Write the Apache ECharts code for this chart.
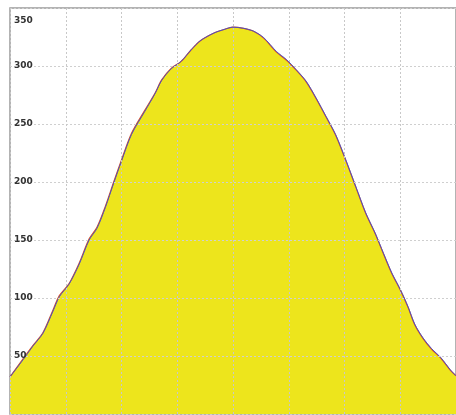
<!DOCTYPE html>
<html>
<head>
<meta charset="utf-8">
<script src="https://cdn.jsdelivr.net/npm/echarts@6/dist/echarts.min.js"></script>
<style>
html,body{margin:0;padding:0;background:#fff;}
#c{width:456px;height:415px;}
</style>
</head>
<body>
<div id="c"></div>
<script>
// Values
var xs = [0.0, 0.27, 0.41, 0.59, 0.77, 0.885, 1.06, 1.24, 1.42, 1.56, 1.71, 1.86, 2.0, 2.18, 2.42, 2.6, 2.72, 2.89, 3.07, 3.25, 3.42, 3.66, 3.84, 4.0, 4.19, 4.37, 4.55, 4.78, 4.96, 5.13, 5.31, 5.49, 5.67, 5.84, 6.02, 6.2, 6.38, 6.55, 6.7, 6.85, 7.0, 7.14, 7.26, 7.41, 7.56, 7.73, 7.9, 8.0];
var observed = [32, 50, 59, 70, 89.5, 102, 112.5, 130, 151, 161, 179, 200, 219, 242, 262, 276.5, 288, 298, 304, 314, 322, 328.5, 331.5, 333.5, 332.5, 330, 324, 312, 305, 296.6, 286.5, 272, 256, 240.5, 219, 196, 173, 155.6, 138, 121, 107, 92, 77, 65, 56, 48, 37.7, 33];
var fitted   = [32, 49, 58.5, 69.5, 88.5, 101, 112, 129, 150, 160, 178, 199, 218, 241, 261, 276, 287.5, 297.5, 304, 314, 322, 328.5, 331.5, 333.5, 332.5, 330, 324.5, 312.5, 305.5, 297, 287, 272.5, 256.5, 241, 219.5, 196.5, 173.5, 156, 138.5, 121.5, 107.5, 92.5, 77.5, 65.5, 56.5, 48.5, 38, 33];
var yTicks = [0, 50, 100, 150, 200, 250, 300, 350];

function pairs(a){ return xs.map(function(x,i){ return [x, a[i]]; }); }

var chart = echarts.init(document.getElementById('c'), null, {renderer:'canvas'});
chart.setOption({
  animation: false,
  backgroundColor: '#ffffff',
  grid: {left: 10, top: 8, width: 451, height: 406, show: true, borderColor: '#9a9a9a', borderWidth: 1.5, backgroundColor: 'transparent'},
  xAxis: {
    type: 'value', min: 0, max: 8, interval: 1, z: 5,
    axisLine: {show: false}, axisTick: {show: false}, axisLabel: {show: false},
    splitLine: {show: true, lineStyle: {color: '#c8c8c8', type: [2, 2], width: 1}}
  },
  yAxis: {
    type: 'value', min: yTicks[0], max: yTicks[yTicks.length-1], interval: 50, z: 5,
    axisLine: {show: false}, axisTick: {show: false},
    axisLabel: {
      inside: true, margin: 4, color: '#333', fontSize: 9, fontWeight: 'bold', fontFamily: 'DejaVu Sans',
      showMinLabel: false,
      formatter: function(v){ return v === 350 ? '{t|' + v + '}' : '{n|' + v + '}'; },
      rich: {
        t: {fontSize: 9, fontWeight: 'bold', color: '#333', fontFamily: 'DejaVu Sans', padding: [26, 0, 0, 0]},
        n: {fontSize: 9, fontWeight: 'bold', color: '#333', fontFamily: 'DejaVu Sans'}
      }
    },
    splitLine: {show: true, lineStyle: {color: '#cfcfcf', type: [2, 2], width: 1}}
  },
  series: [
    {
      type: 'line', data: pairs(observed), smooth: 0.3, symbol: 'none', z: 2,
      lineStyle: {color: '#d9532b', width: 1.2},
      areaStyle: {color: '#ede51c', opacity: 1}
    },
    {
      type: 'line', data: pairs(fitted), smooth: 0.3, symbol: 'none', z: 3,
      lineStyle: {color: '#3a4fd0', width: 0.9}
    }
  ]
});
</script>
</body>
</html>
